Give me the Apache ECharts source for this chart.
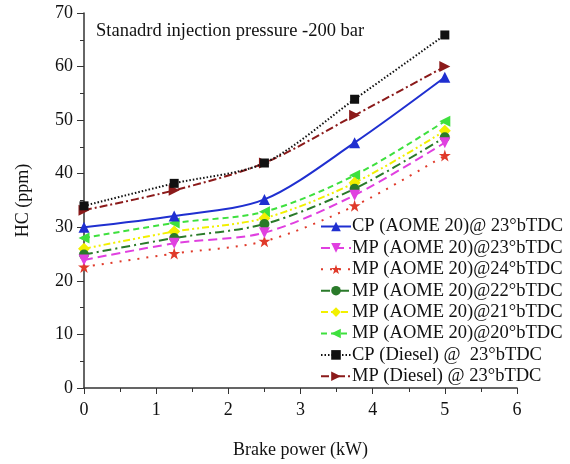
<!DOCTYPE html>
<html><head><meta charset="utf-8">
<script src="https://cdn.jsdelivr.net/npm/echarts@6/dist/echarts.min.js"></script>
<style>html,body{margin:0;padding:0;background:#fff}#c{width:570px;height:464px}</style>
</head><body><div id="c"></div>
<script>
const brakePower = [0, 1.25, 2.5, 3.75, 5];
const seriesNames = [
  'CP (AOME 20)@ 23°bTDC',
  'MP (AOME 20)@23°bTDC',
  'MP (AOME 20)@24°bTDC',
  'MP (AOME 20)@22°bTDC',
  'MP (AOME 20)@21°bTDC',
  'MP (AOME 20)@20°bTDC',
  'CP (Diesel) @  23°bTDC',
  'MP (Diesel) @ 23°bTDC'
];
const cpAome23 = [30.0, 32.1, 35.2, 45.8, 58.0];
const mpAome23 = [23.9, 27.0, 29.0, 36.0, 45.8];
const mpAome24 = [22.6, 25.1, 27.4, 34.0, 43.4];
const mpAome22 = [24.9, 28.0, 30.6, 37.2, 46.8];
const mpAome21 = [26.0, 29.2, 31.7, 38.3, 48.0];
const mpAome20 = [28.0, 30.8, 32.9, 39.7, 49.8];
const cpDiesel23 = [34.0, 38.2, 42.0, 53.9, 65.9];
const mpDiesel23 = [33.2, 36.9, 42.0, 50.9, 60.0];
const title = 'Stanadrd injection pressure -200 bar';
const xName = 'Brake power (kW)';
const yName = 'HC (ppm)';

const star = 'path://M50,0 L61.8,35.4 L100,35.4 L69.1,57.3 L80.9,95.1 L50,73.2 L19.1,95.1 L30.9,57.3 L0,35.4 L38.2,35.4 Z';
const styles = [
  {color:'#1f2fd0', type:'solid', symbol:'triangle', rot:0, size:11},
  {color:'#e040e0', type:[9,5], symbol:'triangle', rot:180, size:11},
  {color:'#e03a2a', type:[2,7], symbol:star, rot:0, size:12},
  {color:'#2a7a2a', type:[9,4,2,4], symbol:'circle', rot:0, size:10},
  {color:'#f2f000', type:[7,3,2,3,2,3], symbol:'diamond', rot:0, size:12},
  {color:'#3ee03e', type:[6,4], symbol:'triangle', rot:90, size:11},
  {color:'#111111', type:[1.5,2], symbol:'rect', rot:0, size:9},
  {color:'#8b1a1a', type:[8,3,2,3], symbol:'triangle', rot:-90, size:11}
];
const values = [cpAome23, mpAome23, mpAome24, mpAome22, mpAome21, mpAome20, cpDiesel23, mpDiesel23];
const font = 'Liberation Serif';

const series = values.map((v, i) => ({
  name: seriesNames[i],
  type: 'line',
  smooth: 0.3,
  data: brakePower.map((x, j) => [x, v[j]]),
  symbol: styles[i].symbol,
  symbolRotate: styles[i].rot,
  symbolSize: styles[i].size,
  itemStyle: {color: styles[i].color},
  lineStyle: {color: styles[i].color, type: styles[i].type, width: 2},
  z: 10 - i
}));

const chart = echarts.init(document.getElementById('c'), null, {renderer:'canvas'});
chart.setOption({
  backgroundColor: '#fff',
  animation: false,
  title: {text: title, left: 91, top: 17, textStyle:{fontFamily: font, fontSize: 18.5, fontWeight:'normal', color:'#111'}},
  grid: {left: 84, right: 53, top: 13, bottom: 75},
  legend: {
    orient: 'vertical', left: 320, top: 217,
    itemWidth: 30, itemHeight: 12, itemGap: 2.4,
    backgroundColor: '#fff', padding: [0,4,0,0],
    textStyle: {fontFamily: font, fontSize: 18.5, color:'#111', lineHeight: 18, padding:[0,0,0,-4]}
  },
  xAxis: {
    type: 'value', min: 0, max: 6, interval: 1,
    name: xName, nameLocation: 'middle', nameGap: 53,
    nameTextStyle: {fontFamily: font, fontSize: 18, color:'#111'},
    axisLine: {show: true, lineStyle:{color:'#333', width:1.5}},
    axisTick: {show: true, length: 6, lineStyle:{color:'#333'}},
    minorTick: {show: true, splitNumber: 2, length: 4, lineStyle:{color:'#333'}},
    splitLine: {show: false},
    axisLabel: {fontFamily: font, fontSize: 18, color:'#111', margin: 13}
  },
  yAxis: {
    type: 'value', min: 0, max: 70, interval: 10,
    name: yName, nameLocation: 'middle', nameGap: 52,
    nameTextStyle: {fontFamily: font, fontSize: 18, color:'#111'},
    axisLine: {show: true, lineStyle:{color:'#333', width:1.5}},
    axisTick: {show: true, length: 7, lineStyle:{color:'#333'}},
    minorTick: {show: true, splitNumber: 2, length: 4, lineStyle:{color:'#333'}},
    splitLine: {show: false},
    axisLabel: {fontFamily: font, fontSize: 18, color:'#111', margin: 11}
  },
  series: series
});
</script></body></html>
